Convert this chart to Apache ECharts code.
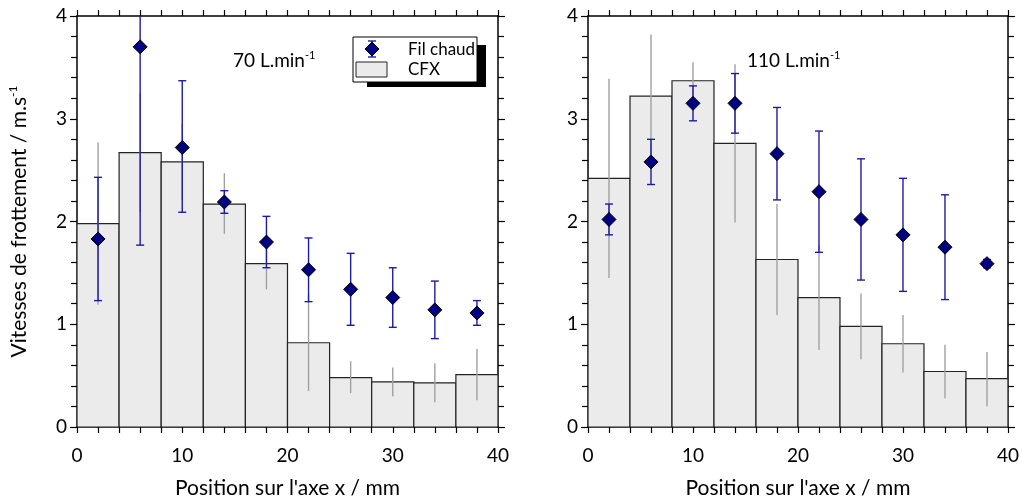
<!DOCTYPE html>
<html>
<head>
<meta charset="utf-8">
<script src="https://cdn.jsdelivr.net/npm/echarts@6/dist/echarts.min.js"></script>
<style>
html,body{margin:0;padding:0;background:#fff;}
#main{width:1022px;height:504px;}
</style>
</head>
<body>
<div id="main"></div>
<script>
// ---- data ----
const positions = [2, 6, 10, 14, 18, 22, 26, 30, 34, 38];
const binWidth = 4;

// 70 L/min panel
const cfx70 = [1.98, 2.67, 2.58, 2.17, 1.59, 0.82, 0.48, 0.44, 0.43, 0.51];
const cfx70Hi = [2.77, 3.25, 2.95, 2.47, 1.84, 1.29, 0.64, 0.58, 0.62, 0.76];
const cfx70Lo = [1.19, 2.09, 2.21, 1.88, 1.34, 0.35, 0.33, 0.30, 0.24, 0.26];
const fil70 = [1.83, 3.70, 2.72, 2.19, 1.80, 1.53, 1.34, 1.26, 1.14, 1.11];
const fil70Hi = [2.43, 5.63, 3.37, 2.30, 2.05, 1.84, 1.69, 1.55, 1.42, 1.23];
const fil70Lo = [1.23, 1.77, 2.09, 2.08, 1.55, 1.22, 0.99, 0.97, 0.86, 0.99];

// 110 L/min panel
const cfx110 = [2.42, 3.22, 3.37, 2.76, 1.63, 1.26, 0.98, 0.81, 0.54, 0.47];
const cfx110Hi = [3.39, 3.82, 3.55, 3.53, 2.17, 1.77, 1.30, 1.09, 0.80, 0.73];
const cfx110Lo = [1.45, 2.62, 3.19, 1.99, 1.09, 0.75, 0.66, 0.53, 0.28, 0.20];
const fil110 = [2.02, 2.58, 3.15, 3.15, 2.66, 2.29, 2.02, 1.87, 1.75, 1.59];
const fil110Hi = [2.17, 2.80, 3.32, 3.44, 3.11, 2.88, 2.61, 2.42, 2.26, 1.63];
const fil110Lo = [1.87, 2.36, 2.98, 2.86, 2.21, 1.70, 1.43, 1.32, 1.24, 1.55];

const xTicks = [0, 10, 20, 30, 40];
const yTicks = [0, 1, 2, 3, 4];
const xTitle = "Position sur l'axe x / mm";
const yTitle = "Vitesses de frottement / m.s";
const panelLabels = ["70 L.min", "110 L.min"];
const legendNames = ["Fil chaud", "CFX"];

// ---- chart ----
const FONT = 'Lato';
const chart = echarts.init(document.getElementById('main'), null, {renderer: 'canvas'});

function xAxes(gi, pos, showLabel) {
  return {
    type: 'value', gridIndex: gi, position: pos,
    min: xTicks[0], max: xTicks[xTicks.length - 1], interval: xTicks[1] - xTicks[0],
    axisLine: {show: true, onZero: false, lineStyle: {color: '#000', width: 1.5}},
    axisTick: {show: true, inside: false, length: 6, lineStyle: {color: '#000', width: 1.2}},
    minorTick: {show: true, splitNumber: 5, length: 6, lineStyle: {color: '#000', width: 1.2}},
    splitLine: {show: false},
    axisLabel: {show: showLabel, fontFamily: FONT, fontSize: 19, color: '#000', margin: 19},
    name: showLabel ? xTitle : '', nameLocation: 'middle', nameGap: 51,
    nameTextStyle: {fontFamily: FONT, fontSize: 21, color: '#000'}
  };
}
function yAxes(gi, pos, showLabel, withName) {
  return {
    type: 'value', gridIndex: gi, position: pos,
    min: yTicks[0], max: yTicks[yTicks.length - 1], interval: yTicks[1] - yTicks[0],
    axisLine: {show: true, onZero: false, lineStyle: {color: '#000', width: 1.5}},
    axisTick: {show: true, inside: false, length: 7, lineStyle: {color: '#000', width: 1.2}},
    minorTick: {show: true, splitNumber: 5, length: 6, lineStyle: {color: '#000', width: 1.2}},
    splitLine: {show: false},
    axisLabel: {show: showLabel, fontFamily: FONT, fontSize: 19, color: '#000', margin: 10},
    name: withName ? '{a|' + yTitle + '}{s|-1}' : '', nameLocation: 'middle', nameGap: 46,
    nameTextStyle: {fontFamily: FONT, fontSize: 21, color: '#000',
      rich: {a: {fontFamily: FONT, fontSize: 21, color: '#000'},
             s: {fontFamily: FONT, fontSize: 12, color: '#000', verticalAlign: 'top', padding: [0, 0, 12, 0]}}}
  };
}

function barSeries(xi, yi, vals) {
  return {
    type: 'custom', xAxisIndex: xi, yAxisIndex: yi, clip: true, z: 2,
    data: positions.map((p, i) => [p, vals[i]]),
    renderItem: function (params, api) {
      const x = api.value(0), v = api.value(1);
      const p0 = api.coord([x - binWidth / 2, v]);
      const p1 = api.coord([x + binWidth / 2, 0]);
      return {type: 'rect', shape: {x: p0[0], y: p0[1], width: p1[0] - p0[0], height: p1[1] - p0[1]},
        style: {fill: '#ebebeb', stroke: '#222', lineWidth: 1.2}};
    }
  };
}
function errSeries(xi, yi, lo, hi, color, cap, z) {
  return {
    type: 'custom', xAxisIndex: xi, yAxisIndex: yi, clip: true, z: z,
    data: positions.map((p, i) => [p, lo[i], hi[i]]),
    renderItem: function (params, api) {
      const x = api.value(0);
      const a = api.coord([x, api.value(1)]);
      const b = api.coord([x, api.value(2)]);
      const children = [{type: 'line', shape: {x1: a[0], y1: a[1], x2: b[0], y2: b[1]},
        style: {stroke: color, lineWidth: 1.4}}];
      if (cap) {
        children.push({type: 'line', shape: {x1: a[0] - cap, y1: a[1], x2: a[0] + cap, y2: a[1]}, style: {stroke: color, lineWidth: 1.4}});
        children.push({type: 'line', shape: {x1: b[0] - cap, y1: b[1], x2: b[0] + cap, y2: b[1]}, style: {stroke: color, lineWidth: 1.4}});
      }
      return {type: 'group', children: children};
    }
  };
}
function pointSeries(xi, yi, vals) {
  return {
    type: 'scatter', xAxisIndex: xi, yAxisIndex: yi, z: 5,
    symbol: 'diamond', symbolSize: 14,
    itemStyle: {color: '#000080', borderColor: '#000', borderWidth: 1, opacity: 1},
    data: positions.map((p, i) => [p, vals[i]])
  };
}

const superRich = {
  a: {fontFamily: FONT, fontSize: 19, fill: '#000'},
  s: {fontFamily: FONT, fontSize: 11, fill: '#000', verticalAlign: 'top', padding: [0, 0, 10, 0]}
};

const option = {
  animation: false,
  backgroundColor: '#fff',
  grid: [
    {left: 77, top: 16, width: 421, height: 415, containLabel: false},
    {left: 588, top: 16, width: 421, height: 415, containLabel: false}
  ],
  xAxis: [xAxes(0, 'bottom', true), xAxes(0, 'top', false), xAxes(1, 'bottom', true), xAxes(1, 'top', false)],
  yAxis: [yAxes(0, 'left', true, true), yAxes(0, 'right', false, false), yAxes(1, 'left', true, false), yAxes(1, 'right', false, false)],
  series: [
    barSeries(0, 0, cfx70),
    errSeries(0, 0, cfx70Lo, cfx70Hi, '#a0a0a0', 0, 3),
    errSeries(0, 0, fil70Lo, fil70Hi, '#1c1c9c', 4, 4),
    pointSeries(0, 0, fil70),
    barSeries(2, 2, cfx110),
    errSeries(2, 2, cfx110Lo, cfx110Hi, '#a0a0a0', 0, 3),
    errSeries(2, 2, fil110Lo, fil110Hi, '#1c1c9c', 4, 4),
    pointSeries(2, 2, fil110)
  ],
  graphic: [
    {type: 'text', left: 233, top: 50, z: 10,
      style: {text: '{a|' + panelLabels[0] + '}{s|-1}', rich: superRich}},
    {type: 'text', left: 747, top: 50, z: 10,
      style: {text: '{a|' + panelLabels[1] + '}{s|-1}', rich: superRich}},
    // legend
    {type: 'rect', shape: {x: 367, y: 45, width: 119, height: 42}, style: {fill: '#000'}, z: 10},
    {type: 'rect', shape: {x: 353, y: 37, width: 124, height: 45}, style: {fill: '#fff', stroke: '#000', lineWidth: 1}, z: 11},
    {type: 'line', shape: {x1: 372, y1: 41, x2: 372, y2: 57}, style: {stroke: '#1c1c9c', lineWidth: 1.4}, z: 12},
    {type: 'line', shape: {x1: 368, y1: 41, x2: 376, y2: 41}, style: {stroke: '#1c1c9c', lineWidth: 1.4}, z: 12},
    {type: 'line', shape: {x1: 368, y1: 57, x2: 376, y2: 57}, style: {stroke: '#1c1c9c', lineWidth: 1.4}, z: 12},
    {type: 'polygon', shape: {points: [[372, 42], [379, 49], [372, 56], [365, 49]]}, style: {fill: '#000080', stroke: '#000', lineWidth: 1}, z: 13},
    {type: 'rect', shape: {x: 356, y: 62, width: 31, height: 15}, style: {fill: '#ebebeb', stroke: '#222', lineWidth: 1}, z: 12},
    {type: 'text', left: 408, top: 41, z: 12, style: {text: legendNames[0], fontFamily: FONT, fontSize: 17, fill: '#000'}},
    {type: 'text', left: 408, top: 61, z: 12, style: {text: legendNames[1], fontFamily: FONT, fontSize: 17, fill: '#000'}}
  ]
};
chart.setOption(option);
</script>
</body>
</html>
